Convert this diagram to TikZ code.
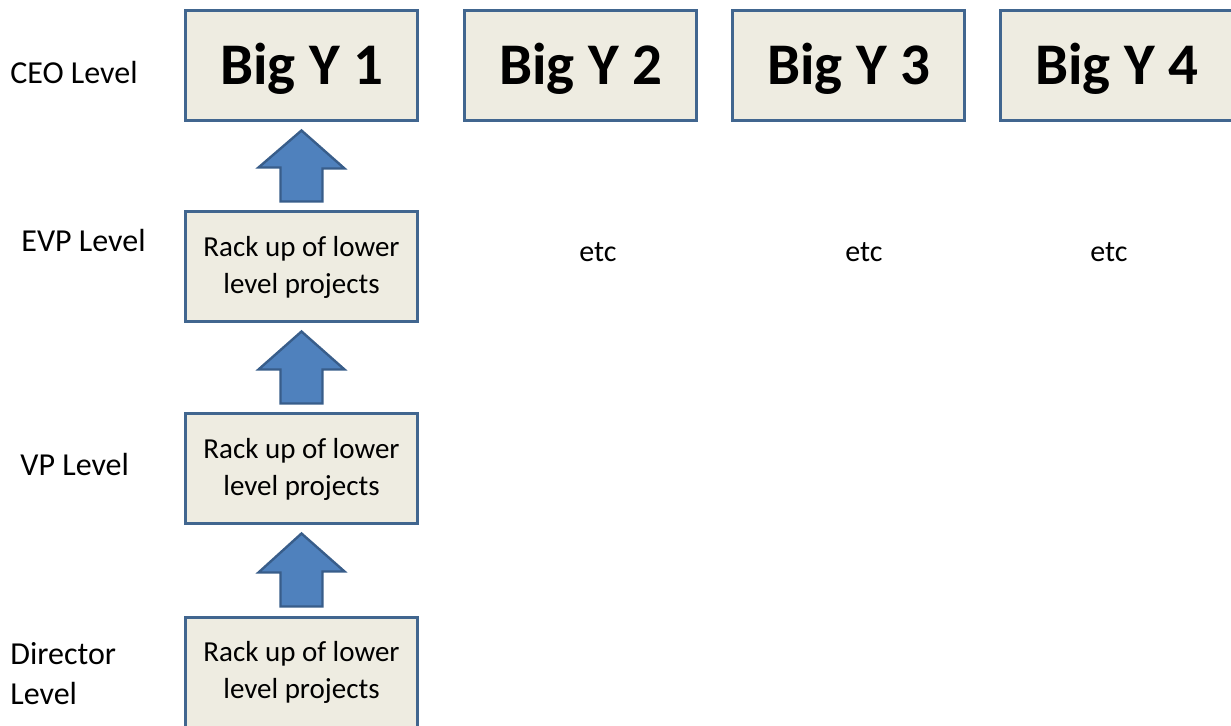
\documentclass[tikz,border=0pt]{standalone}
\usepackage{fontspec}
\setmainfont{Carlito}
\usetikzlibrary{positioning}

\definecolor{boxfill}{HTML}{EEECE1}
\definecolor{boxline}{HTML}{41668F}
\definecolor{arrfill}{HTML}{4F81BD}
\definecolor{arrline}{HTML}{385D8A}

\tikzset{
  bigy/.style={draw=boxline,fill=boxfill,line width=1.5pt,minimum width=116pt,minimum height=55pt,
    text height=19pt,text depth=0pt,font=\bfseries\fontsize{29.5}{32}\selectfont},
  rackbox/.style={draw=boxline,fill=boxfill,line width=1.5pt,minimum width=116pt,minimum height=55pt,
    align=center,font=\fontsize{14.5}{18.5}\selectfont},
  lvl/.style={font=\fontsize{16}{20}\selectfont,inner sep=0pt},
  uparrow/.style={draw=arrline,fill=arrfill,line width=1.2pt,line join=miter}
}

\begin{document}
\begin{tikzpicture}[x=0.5pt,y=-0.5pt]
  \useasboundingbox (0,0) rectangle (1231,726);
  % top row
  \node[bigy] (big1) at (301.5,66) {Big Y 1};
  \node[bigy] (big2) at (580.5,66) {Big Y 2};
  \node[bigy] (big3) at (848.5,66) {Big Y 3};
  \node[bigy] (big4) at (1116.5,66) {Big Y 4};
  % lower levels
  \node[rackbox] (evp) at (301.5,267) {Rack up of lower\\level projects};
  \node[rackbox] (vp) at (301.5,469) {Rack up of lower\\level projects};
  \node[rackbox] (dir) at (301.5,672) {Rack up of lower\\level projects};
  \foreach \lo/\hi in {evp/big1,vp/evp,dir/vp}{
    \draw[uparrow] ([yshift=-4pt]\hi.south) -- ++(43,38) -- ++(-22,0)
      |- ([yshift=4.5pt]\lo.north) -- ++(-21,0) -- ++(0,-34) -- ++(-22,0) -- cycle;
  }
  % level labels
  \node[lvl,anchor=base west] (ceo) at (10,84) {CEO Level};
  \node[lvl,anchor=base west] (evplbl) at (21,252) {EVP Level};
  \node[lvl,anchor=base west] (vplbl) at (20,476) {VP Level};
  \node[lvl,anchor=west,align=left] (dirlbl) at (10,674) {Director\\Level};
  % other columns
  \foreach \x/\n in {598/a,864/b,1109/c}{
    \node[lvl,font=\fontsize{15}{18}\selectfont] (etc\n) at (\x,252) {etc};
  }
\end{tikzpicture}
\end{document}
